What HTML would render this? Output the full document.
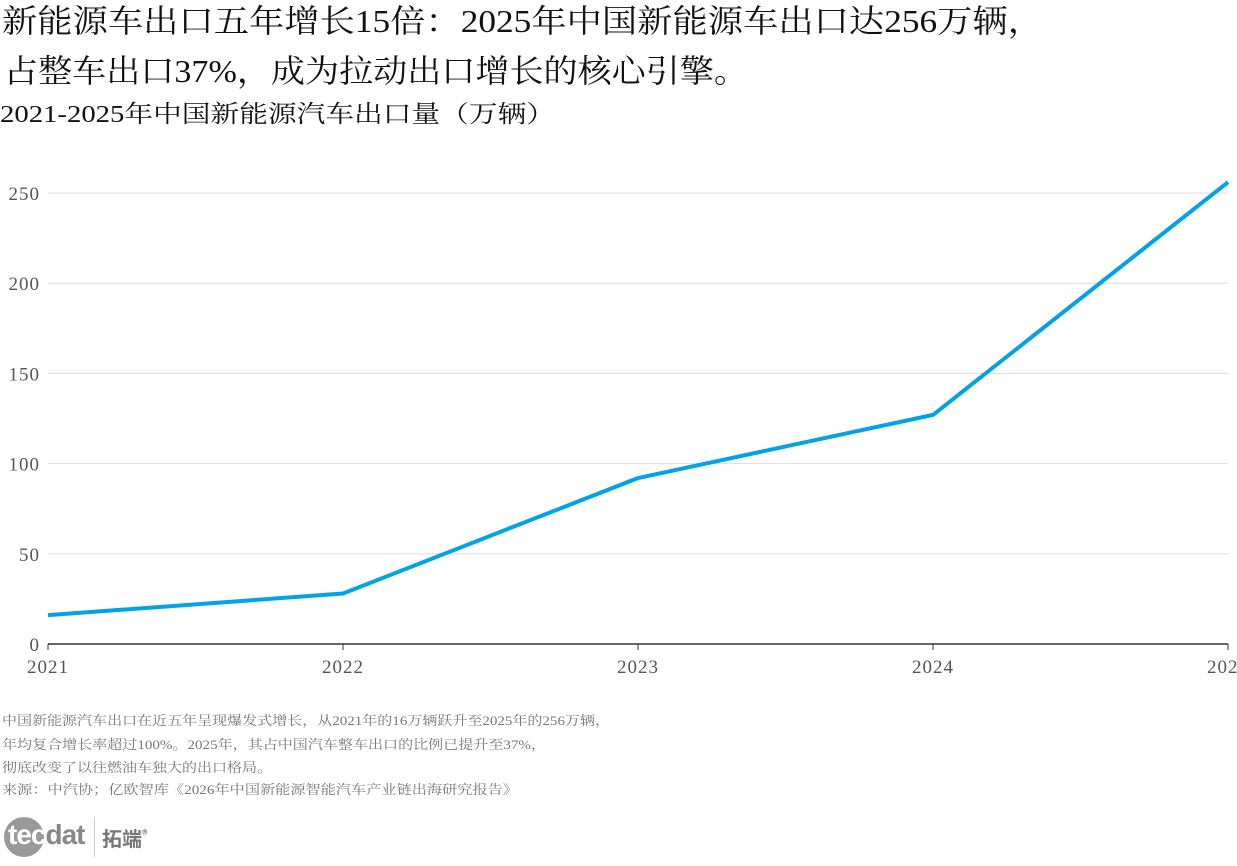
<!DOCTYPE html>
<html><head><meta charset="utf-8"><style>
body{margin:0;width:1237px;height:866px;background:#fff;overflow:hidden;position:relative;font-family:"Liberation Serif","Noto Serif CJK SC",serif;}
.t{position:absolute;left:2px;white-space:nowrap;color:#111;transform-origin:0 0;}
.f{position:absolute;left:2px;font-size:13px;color:#777;white-space:nowrap;transform-origin:0 0;}
</style></head><body>
<div class="t" data-w="1043" style="top:-4px;font-size:32px;">新能源车出口五年增长15倍：2025年中国新能源车出口达256万辆，</div>
<div class="t" data-w="748" style="top:46px;font-size:32px;left:4px;">占整车出口37%，成为拉动出口增长的核心引擎。</div>
<div class="t" data-w="555" style="top:94px;font-size:24px;left:0;">2021-2025年中国新能源汽车出口量（万辆）</div>
<svg id="c" width="1237" height="700" style="position:absolute;left:0;top:0"></svg>
<div class="f" data-w="610" style="top:710px">中国新能源汽车出口在近五年呈现爆发式增长，从2021年的16万辆跃升至2025年的256万辆，</div>
<div class="f" data-w="546" style="top:734px">年均复合增长率超过100%。2025年，其占中国汽车整车出口的比例已提升至37%，</div>
<div class="f" data-w="272" style="top:757px">彻底改变了以往燃油车独大的出口格局。</div>
<div class="f" data-w="518" style="top:779px">来源：中汽协；亿欧智库《2026年中国新能源智能汽车产业链出海研究报告》</div>
<div style="position:absolute;left:4px;top:815px;height:44px;width:200px;">
<div style="position:absolute;left:0;top:2px;width:40px;height:40px;border-radius:50%;background:#999;"></div>
<div style="position:absolute;left:4px;top:4px;font:bold 28px 'Liberation Sans',sans-serif;color:#fff;letter-spacing:-1px;">tec<span style="color:#888">dat</span></div>
<div style="position:absolute;left:90px;top:2px;width:1px;height:40px;background:#ccc;"></div>
<div style="position:absolute;left:98px;top:8px;font:bold 20px 'Noto Sans CJK SC',sans-serif;color:#777;">拓端<sup style="font-size:11px">®</sup></div>
</div>
<script>
const years=["2021","2022","2023","2024","2025"];
const exportsVal=[16,28,92,127,256];
const yTicks=[0,50,100,150,200,250];
const svg=document.getElementById('c');const NS='http://www.w3.org/2000/svg';
const x0=48,x1=1228,y0=644,yTop=193;
const xs=i=>x0+(x1-x0)*i/(years.length-1);
const ys=v=>y0-(y0-yTop)*v/250;
function mk(t,a){const e=document.createElementNS(NS,t);for(const k in a)e.setAttribute(k,a[k]);svg.appendChild(e);return e;}
yTicks.forEach(v=>{
 if(v>0){const g=mk('line',{x1:48,x2:1228,y1:ys(v),y2:ys(v),stroke:'#ddd','stroke-width':1});
 
 }
 const t=mk('text',{x:40,y:ys(v)+7,'text-anchor':'end','font-size':19,fill:'#555','font-family':'"Liberation Serif",serif','letter-spacing':1});
 t.textContent=v;
 
 
});
const ax=mk('line',{x1:48,x2:1228,y1:y0,y2:y0,stroke:'#333','stroke-width':1.5});


years.forEach((y,i)=>{
 const tk=mk('line',{x1:xs(i),x2:xs(i),y1:y0,y2:y0+6,stroke:'#333'});
 
 
 const t=mk('text',{x:xs(i),y:y0+29,'text-anchor':'middle','font-size':19,fill:'#555','font-family':'"Liberation Serif",serif','letter-spacing':1});
 t.textContent=y;
 
 
});
const p=mk('polyline',{points:exportsVal.map((v,i)=>xs(i)+','+ys(v)).join(' '),fill:'none',stroke:'#00a3e8','stroke-width':4,'stroke-linejoin':'round'});


document.querySelectorAll('[data-w]').forEach(el=>{
 const w=el.getBoundingClientRect().width;
 const target=+el.getAttribute('data-w')-el.offsetLeft;
 el.style.transform='scaleX('+(target/w)+')';
});
</script>
</body></html>
